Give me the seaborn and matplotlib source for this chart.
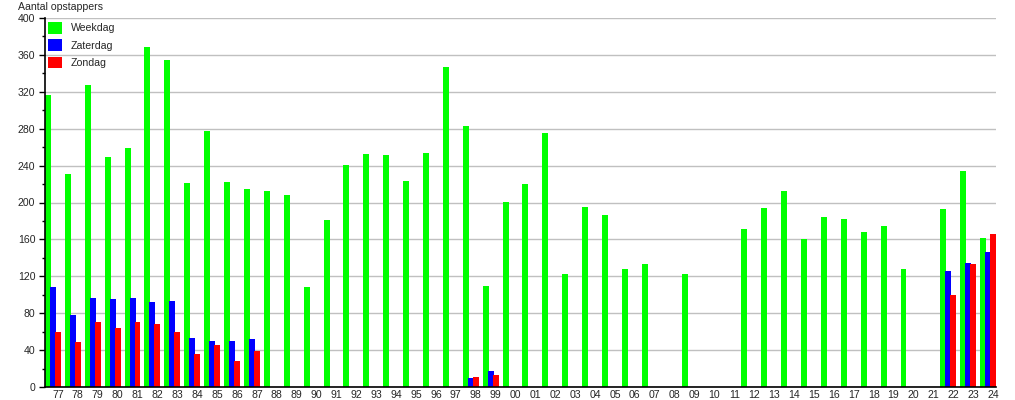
import numpy as np
import pandas as pd
import matplotlib
matplotlib.use("Agg")
import matplotlib.pyplot as plt
from matplotlib.patches import Patch
from matplotlib.ticker import MultipleLocator
import seaborn as sns

years = ["77", "78", "79", "80", "81", "82", "83", "84", "85", "86", "87", "88",
         "89", "90", "91", "92", "93", "94", "95", "96", "97", "98", "99", "00",
         "01", "02", "03", "04", "05", "06", "07", "08", "09", "10", "11", "12",
         "13", "14", "15", "16", "17", "18", "19", "20", "21", "22", "23", "24"]

weekdag = [317, 231, 327, 249, 259, 369, 355, 221, 278, 222, 215, 213,
           208, 108, 181, 241, 253, 251, 223, 254, 347, 283, 110, 201,
           220, 275, 122, 195, 186, 128, 133, None, 123, None, None, 171,
           194, 213, 160, 184, 182, 168, 174, 128, None, 193, 234, 162]

zaterdag = [108, 78, 97, 95, 97, 92, 93, 53, 50, 50, 52, None,
            None, None, None, None, None, None, None, None, None, 10, 17, None,
            None, None, None, None, None, None, None, None, None, None, None, None,
            None, None, None, None, None, None, None, None, None, 126, 134, 146]

zondag = [60, 49, 70, 64, 70, 68, 60, 36, 46, 28, 39, None,
          None, None, None, None, None, None, None, None, None, 11, 13, None,
          None, None, None, None, None, None, None, None, None, None, None, None,
          None, None, None, None, None, None, None, None, None, 100, 133, 166]

series_names = ["Weekdag", "Zaterdag", "Zondag"]
colors = ["#00ff00", "#0000ff", "#ff0000"]
y_title = "Aantal opstappers"

rows = []
for name, vals in zip(series_names, [weekdag, zaterdag, zondag]):
    for yr, v in zip(years, vals):
        if v is not None:
            rows.append({"jaar": yr, "serie": name, "aantal": v})
df = pd.DataFrame(rows)

sns.set_theme(style="white")
plt.rcParams["font.family"] = ["Liberation Sans", "DejaVu Sans"]

FS = 7.6
W, H = 1015, 400
fig = plt.figure(figsize=(W / 100, H / 100), dpi=100)
ax_l, ax_r, ax_t, ax_b = 45, 996, 18, 387
ax = fig.add_axes([ax_l / W, 1 - ax_b / H, (ax_r - ax_l) / W, (ax_b - ax_t) / H])

sns.barplot(data=df, x="jaar", y="aantal", hue="serie", order=years,
            hue_order=series_names, palette=colors, width=0.75, dodge=True,
            saturation=1, linewidth=0, errorbar=None, legend=False, ax=ax)

# widen bars slightly so neighbouring bars overlap like the reference
for p in ax.patches:
    w = p.get_width()
    p.set_x(p.get_x() - 0.025)
    p.set_width(w + 0.05)

ax.set_xlim(-0.4, len(years) - 1 + 0.4)
ax.set_ylim(0, 400)
ax.set_xticks(np.arange(len(years)) + 0.25)
ax.set_xticklabels(years)
ax.yaxis.set_major_locator(MultipleLocator(40))
ax.yaxis.set_minor_locator(MultipleLocator(20))
ax.tick_params(axis="y", which="major", direction="out", length=4, width=1,
               color="black", labelsize=FS, pad=3, left=True)
ax.tick_params(axis="y", which="minor", direction="out", length=2, width=1,
               color="black", left=True)
ax.tick_params(axis="x", length=0, labelsize=FS, pad=2.5)
ax.set_xlabel("")
ax.set_ylabel("")

ax.grid(axis="y", which="major", color="#c0c0c0", linewidth=1)
ax.set_axisbelow(True)
for s in ["top", "right"]:
    ax.spines[s].set_visible(False)
for s in ["left", "bottom"]:
    ax.spines[s].set_color("black")
    ax.spines[s].set_linewidth(1.2)

handles = [Patch(facecolor=c, edgecolor="none", label=n) for c, n in zip(colors, series_names)]
ax.legend(handles=handles, loc="upper left",
          bbox_to_anchor=(3 / (ax_r - ax_l), 1 - 4 / (ax_b - ax_t)),
          frameon=False, fontsize=FS, handlelength=1.3, handleheight=1.3,
          handletextpad=0.85, labelspacing=0.55, borderpad=0, borderaxespad=0)

fig.text(18 / W, 1 - 10 / H, y_title, fontsize=FS, ha="left", va="baseline")

fig.savefig("out.png", dpi=100)
